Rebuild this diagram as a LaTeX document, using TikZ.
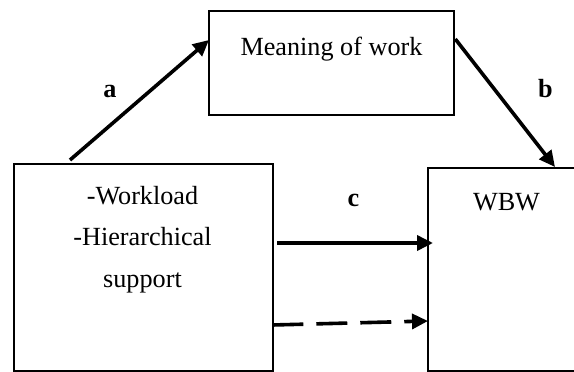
\documentclass[tikz,border=0pt]{standalone}
\usepackage{fontspec}
\setmainfont{Liberation Serif}
\usetikzlibrary{arrows.meta}
\tikzset{
  box/.style={draw, line width=2.3pt, inner sep=0pt, anchor=north west},
  txt/.style={inner sep=0pt, font=\fontsize{26.2}{41.5}\selectfont},
  lab/.style={inner sep=0pt, anchor=base, font=\fontsize{26.2}{30}\selectfont\bfseries},
  arr/.style={line width=3.6pt, -{Triangle[length=16pt,width=15pt]}},
  darr/.style={arr, dash pattern=on 31pt off 13pt}
}
\begin{document}
\begin{tikzpicture}[x=1pt,y=-1pt]
\useasboundingbox (0,0) rectangle (574,372);
\begin{scope}
\clip (0,0) rectangle (574,372);
\node[box, minimum width=245pt, minimum height=104pt] (mw) at (208,10) {};
\node[box, minimum width=259pt, minimum height=207pt] (lb) at (13,163) {};
\node[box, minimum width=163pt, minimum height=203pt] (wb) at (427,167) {};
\end{scope}
\node[txt, anchor=base] (mwt) at (331.5,56) {Meaning of work};
\node[txt, anchor=north, align=center] (lbt) at (142.5,186) {-Workload\\-Hierarchical\\support};
\node[txt, anchor=base] (wbt) at (506.5,210.5) {WBW};
\node[lab] (la) at (110,97) {a};
\node[lab] (lbl) at (545.5,97) {b};
\node[lab] (lc) at (353.5,206) {c};
\draw[arr] ([xshift=57pt,yshift=3pt]lb.north west) -- ([xshift=1pt,yshift=-30pt]mw.north west);
\draw[arr] ([yshift=-29pt]mw.north east) -- ([xshift=128pt]wb.north west);
\draw[arr] ([xshift=3pt,yshift=-80pt]lb.north east) -- ([xshift=6pt,yshift=-76pt]wb.north west);
\draw[darr] ([xshift=-2pt,yshift=-162pt]lb.north east) -- ([xshift=1pt,yshift=-154pt]wb.north west);
\end{tikzpicture}
\end{document}
